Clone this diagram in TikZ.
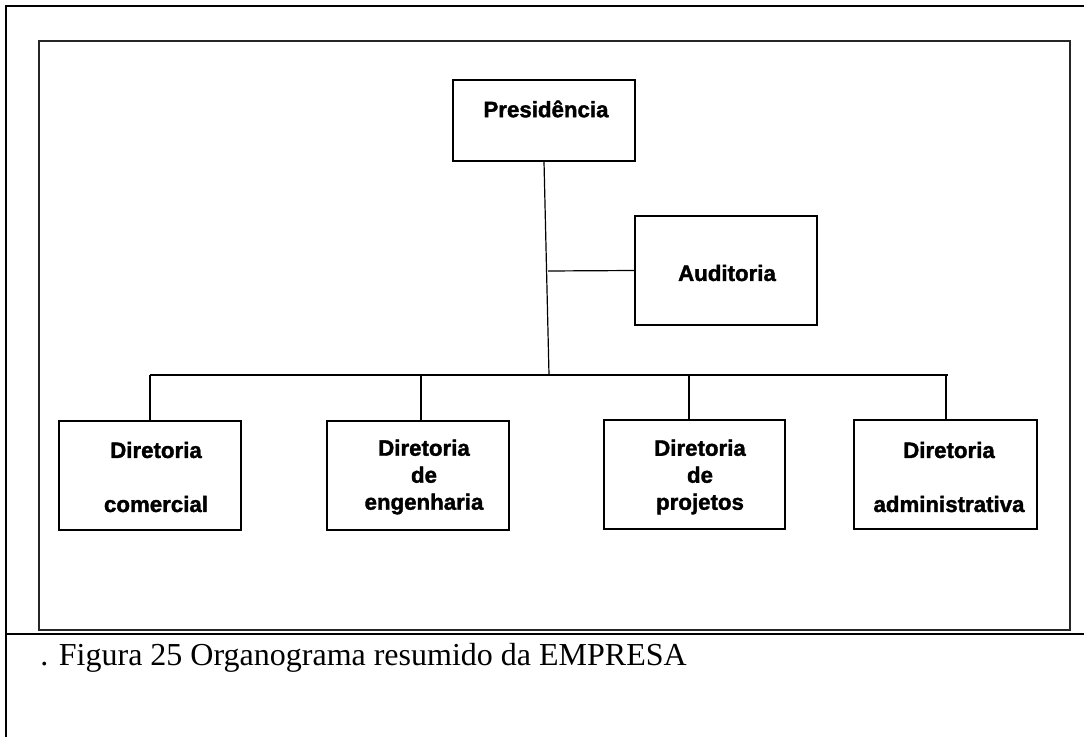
\documentclass[tikz,border=0pt]{standalone}
\usepackage{fontspec}
\setmainfont{Liberation Serif}
\newfontfamily\boxfont{Liberation Sans}[BoldFont={Liberation Sans Bold},BoldFeatures={FakeBold=1.6}]
\usetikzlibrary{fit,calc}
\begin{document}
\begin{tikzpicture}[x=0.75pt,y=-0.75pt,
  frame/.style={line width=2pt,black},
  panel/.style={line width=1.8pt,black!85},
  unit/.style={draw,line width=1.1pt,inner sep=0pt},
  link/.style={line width=0.9pt},
  unitname/.style={font=\boxfont\bfseries\fontsize{16.7}{20.25}\selectfont,align=center,inner sep=0pt}
]
\useasboundingbox (0,0) rectangle (1084,737);

% page frame and caption rule
\draw[frame] (1084,6) -- (6,6) -- (6,737);
\draw[frame] (6,634) -- (1084,634);
% panel holding the chart
\draw[panel] (39,41) rectangle (1070,630);

% units
\node[unit,fit={(453,80) (635,161)}] (pres) {};
\node[unit,fit={(635,216) (817,325)}] (aud) {};
\node[unit,fit={(59,421) (241,530)}] (dcom) {};
\node[unit,fit={(327,421) (509,530)}] (deng) {};
\node[unit,fit={(604,420) (785,529)}] (dproj) {};
\node[unit,fit={(854,420) (1037,529)}] (dadm) {};

% unit names
\node[unitname] (presT) at (546,109) {Presidência};
\node[unitname] (audT) at (727,273) {Auditoria};
\node[unitname] (dcomT) at (156,477) {Diretoria\\[20.25pt]comercial};
\node[unitname] (dengT) at (424,477) {Diretoria\\de\\engenharia};
\node[unitname] (dprojT) at (700,477) {Diretoria\\de\\projetos};
\node[unitname] (dadmT) at (949,477) {Diretoria\\[20.25pt]administrativa};

% connectors
\coordinate (trunkEnd) at (549,375);
\coordinate (audJoin) at (548,271);
\coordinate (busL) at (150,375);
\coordinate (busR) at (948,375);
\coordinate (j1) at (150,375);
\coordinate (j2) at (421,375);
\coordinate (j3) at (689,375);
\coordinate (j4) at (946,375);

\draw[link] (pres.south) -- (trunkEnd);
\draw[link] (audJoin) -- (aud.west);
\draw[link] (busL) -- (busR);
\draw[link] (j1) -- (j1 |- dcom.north);
\draw[link] (j2) -- (j2 |- deng.north);
\draw[link] (j3) -- (j3 |- dproj.north);
\draw[link] (j4) -- (j4 |- dadm.north);

% caption
\node[anchor=base west,inner sep=0pt,font=\fontsize{24}{29}\selectfont] (caption) at (40,665) {. Figura 25 Organograma resumido da EMPRESA};
\end{tikzpicture}
\end{document}
